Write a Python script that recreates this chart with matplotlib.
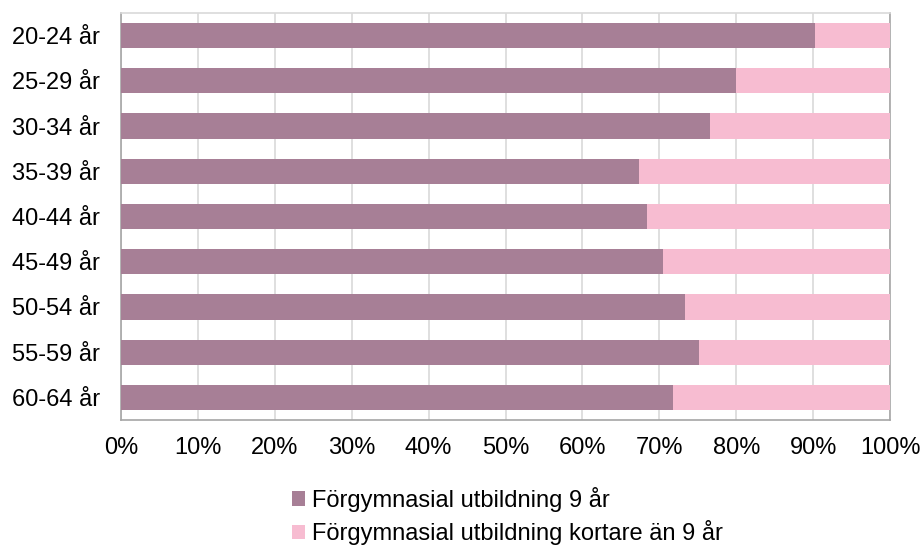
import matplotlib
matplotlib.use("Agg")
import matplotlib.pyplot as plt
from matplotlib.patches import Patch

categories = ["20-24 år", "25-29 år", "30-34 år", "35-39 år", "40-44 år",
              "45-49 år", "50-54 år", "55-59 år", "60-64 år"]
nine_years = [90.2, 80.0, 76.6, 67.4, 68.4, 70.5, 73.3, 75.1, 71.8]
shorter = [100 - v for v in nine_years]
series_names = ["Förgymnasial utbildning 9 år", "Förgymnasial utbildning kortare än 9 år"]
xticks = [0, 10, 20, 30, 40, 50, 60, 70, 80, 90, 100]
xtick_labels = [f"{t}%" for t in xticks]

c_dark = "#A77F96"
c_pink = "#F7BCD1"

plt.rcParams['font.family'] = ['Liberation Sans', 'DejaVu Sans']

fig = plt.figure(figsize=(9.24, 5.49), dpi=100)
ax = fig.add_axes([121/924, 1-420/549, (890-121)/924, (420-13)/549])

y = list(range(len(categories)))
ax.barh(y, nine_years, height=0.56, color=c_dark, zorder=3)
ax.barh(y, shorter, left=nine_years, height=0.56, color=c_pink, zorder=3)

ax.set_xlim(0, 100)
ax.set_ylim(len(categories) - 0.5, -0.5)
ax.set_yticks(y)
ax.set_yticklabels(categories, fontsize=17)
ax.set_xticks(xticks)
ax.set_xticklabels(xtick_labels, fontsize=17)
ax.tick_params(axis='both', length=0)
ax.tick_params(axis='x', pad=12)
ax.tick_params(axis='y', pad=15)
ax.grid(axis='x', color='#D9D9D9', linewidth=1.2, zorder=0)
for s in ax.spines.values():
    s.set_color('#A6A6A6')
    s.set_linewidth(1.2)
ax.spines['top'].set_color('#D9D9D9')

handles = [Patch(facecolor=c_dark, edgecolor='none'), Patch(facecolor=c_pink, edgecolor='none')]
fig.legend(handles, series_names, loc='upper left', bbox_to_anchor=(280/924, 1-475/549),
           frameon=False, fontsize=17, handlelength=0.55, handleheight=0.55,
           handletextpad=0.3, labelspacing=0.35, borderpad=0)

fig.savefig("out.png", dpi=100)
